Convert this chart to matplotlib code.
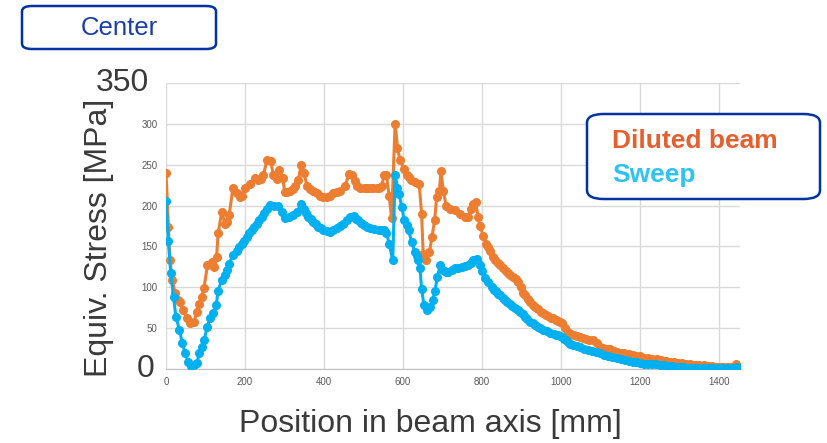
import matplotlib
matplotlib.use("Agg")
import matplotlib.pyplot as plt
from matplotlib.patches import FancyBboxPatch

plt.rcParams['font.family'] = ['Liberation Sans', 'DejaVu Sans']

diluted_x = [0, 6, 10, 16, 23, 30, 35, 43, 52, 61, 71, 78, 84, 90, 96, 105, 116, 122, 128, 132,
             141, 149, 155, 160, 169, 179, 187, 193, 200, 213, 225, 234, 240, 246, 256, 265, 272, 280,
             287, 295, 301, 307, 314, 321, 327, 335, 342, 349, 357, 365, 373, 381, 390, 398, 407, 415,
             424, 433, 441, 453, 464, 472, 478, 483, 491, 500, 508, 517, 525, 533, 540, 546, 552, 558,
             565, 571, 580, 586, 592, 603, 609, 614, 620, 630, 641, 647, 651, 658, 667, 673, 680, 685,
             692, 696, 702, 709, 719, 732, 744, 757, 765, 772, 778, 784, 790, 795,
             803, 810, 815, 820, 828, 834, 840, 846, 853, 860, 866, 872, 879, 885, 891, 898, 904, 910,
             916, 922, 929, 935, 942, 948, 955, 961, 968, 974, 980, 986, 992, 998, 1003, 1010, 1018,
             1025, 1033, 1040, 1048, 1056, 1064, 1072, 1081, 1091, 1099, 1105, 1112, 1118, 1124, 1133,
             1142, 1151, 1160, 1171, 1183, 1191, 1200, 1210, 1220, 1231, 1243, 1254, 1265, 1275, 1285,
             1295, 1305, 1316, 1327, 1338, 1350, 1361, 1372, 1383, 1395, 1403, 1410, 1419, 1428, 1436,
             1443]
diluted_y = [240, 174, 133, 109, 93, 85, 82, 72, 62, 56, 58, 70, 80, 88, 99, 127, 131, 125, 137, 166,
             192, 178, 180, 188, 221, 215, 210, 212, 222, 227, 234, 231, 233, 237, 256, 254, 237, 233,
             243, 234, 216, 216, 218, 220, 224, 231, 250, 240, 224, 220, 218, 215, 212, 211, 210, 212,
             215, 216, 218, 224, 239, 237, 230, 224, 222, 221, 221, 222, 221, 222, 222, 224, 237, 237,
             212, 185, 300, 271, 256, 245, 237, 235, 231, 229, 226, 190, 141, 133, 143, 161, 182, 210,
             218, 242, 218, 200, 196, 194, 190, 186, 186, 196, 202, 204, 186, 175,
             163, 153, 149, 145, 137, 134, 130, 127, 123, 120, 117, 115, 112, 110, 107, 100, 93, 90,
             86, 82, 78, 76, 73, 70, 68, 66, 65, 63, 62, 60, 59, 57, 56, 50, 45,
             43, 42, 40, 39, 38, 37, 36, 35, 32, 27, 26, 25, 24.5, 24, 22,
             21, 20, 19, 18, 17, 16.5, 16, 14, 13, 12.5, 12, 11, 10, 9, 8,
             7.5, 7, 6.5, 6, 5.5, 5, 4.5, 4, 3.5, 3, 2.5, 2, 2, 2, 3,
             6]

sweep_x = [0, 6, 12, 19, 25, 34, 41, 49, 56, 63, 71, 78, 84, 90, 96, 105, 111, 120, 127, 132, 141,
           149, 155, 160, 169, 179, 186, 192, 198, 204, 210, 217, 224, 230, 236, 242, 249, 255, 263,
           273, 284, 293, 301, 312, 322, 331, 342, 349, 355, 360, 367, 373, 380, 386, 392, 398, 407,
           415, 424, 432, 441, 449, 457, 466, 476, 482, 487, 494, 500, 508, 517, 527, 538, 545, 552,
           558, 565, 574, 580, 586, 590, 597, 603, 609, 614, 622, 630, 635, 639, 643, 647, 653, 660,
           668, 675, 681, 687, 694, 702, 708, 715, 724, 732, 740, 749, 757, 765, 772, 778, 787, 795,
           800, 808, 816, 825, 830, 835, 840, 846, 852, 858, 864, 871, 877, 884, 890, 896, 903, 909,
           915, 922, 928, 935, 941, 947, 955, 964, 972, 981, 987, 992, 997, 1002, 1007, 1012, 1018,
           1023, 1031, 1040, 1048, 1057, 1067, 1078, 1088, 1099, 1110, 1120, 1130, 1141, 1151, 1162,
           1172, 1183, 1191, 1200, 1210, 1221, 1230, 1240, 1250, 1260, 1270, 1280, 1290, 1300, 1310,
           1320, 1330, 1340, 1350, 1361, 1372, 1383, 1395, 1408, 1420, 1432, 1445]
sweep_y = [206, 157, 117, 88, 64, 48, 32, 19, 9, 4, 5, 7, 19, 27, 35, 52, 62, 68, 78, 96, 109,
           115, 121, 129, 139, 145, 149, 153, 157, 161, 166, 170, 174, 178, 182, 186, 191, 196, 201,
           200, 199, 192, 185, 186, 188, 192, 202, 196, 191, 186, 183, 180, 177, 174, 172, 170, 169,
           168, 170, 172, 175, 178, 182, 186, 187, 184, 182, 179, 176, 174, 172, 171, 170, 170, 170,
           167, 153, 133, 237, 222, 214, 198, 182, 176, 170, 155, 143, 138, 133, 123, 98, 78, 72,
           76, 84, 96, 113, 127, 121, 119, 119, 121, 123, 124, 125, 126, 127, 130, 133, 135, 127,
           120, 111, 106, 100, 97, 95, 92, 90, 87, 85, 82, 80, 77, 75, 72, 70, 67, 64,
           61, 58, 56, 54, 52, 50, 48, 46, 44, 43, 42, 41, 40, 39, 37, 35, 33,
           31, 29.5, 28, 26.5, 25, 23.5, 22, 20.5, 19, 17.5, 16, 14.5, 13, 12, 11,
           10, 9, 8, 7, 6.5, 6, 6, 6, 5, 4.5, 4, 3.5, 3, 2.5, 2,
           1.5, 1, 1, 1, 1, 1, 1, 1, 1, 1, 1, 2]

x_ticks = [0, 200, 400, 600, 800, 1000, 1200, 1400]
y_ticks_small = [50, 100, 150, 200, 250, 300]

ORANGE = '#ED7D31'
BLUE = '#00B0F0'
NAVY = '#0033A0'
TXT = '#3A3A3A'

fig = plt.figure(figsize=(8.28, 4.43), dpi=100)
ax = fig.add_axes([166/828, 1-369/443, (740-166)/828, (369-83)/443])

ax.plot(diluted_x, diluted_y, color=ORANGE, lw=2.2, marker='o', ms=5.5, zorder=3)
ax.plot(sweep_x, sweep_y, color=BLUE, lw=2.2, marker='o', ms=5.5, zorder=4)

ax.set_xlim(0, 1453)
ax.set_ylim(0, 350)
ax.set_xticks(x_ticks)
ax.set_yticks([0] + y_ticks_small + [350])
ax.set_yticklabels([''] + [str(v) for v in y_ticks_small] + [''])
ax.tick_params(axis='both', length=0, labelsize=7, labelcolor='#595959', pad=6)
ax.grid(True, color='#D9D9D9', lw=1)
ax.set_axisbelow(True)
for s in ['top', 'right', 'left']:
    ax.spines[s].set_visible(False)
ax.spines['bottom'].set_color('#BFBFBF')

# Large 0 and 350 labels
ax.text(-0.02, 0, '0', transform=ax.get_yaxis_transform(), ha='right', va='center',
        fontsize=23, color=TXT)
ax.text(-0.03, 350, '350', transform=ax.get_yaxis_transform(), ha='right', va='center',
        fontsize=23, color=TXT)

ax.set_ylabel('Equiv. Stress [MPa]', fontsize=23, color=TXT)
ax.yaxis.set_label_coords(-0.09, 0.46)
ax.set_xlabel('Position in beam axis [mm]', fontsize=23, color=TXT)
ax.xaxis.set_label_coords(0.46, -0.14)

# Center box
cb = FancyBboxPatch((22/828, 1-49/443), (216-22)/828, (49-6)/443,
                    boxstyle='round,pad=0,rounding_size=0.012', transform=fig.transFigure,
                    fc='white', ec=NAVY, lw=1.8, zorder=5)
fig.patches.append(cb)
fig.text(119/828, 1-28/443, 'Center', ha='center', va='center', fontsize=18.5,
         color='#1A3DA8', zorder=6)

# Legend box
lb = FancyBboxPatch((587/828, 1-199/443), (820-587)/828, (199-114)/443,
                    boxstyle='round,pad=0,rounding_size=0.02', transform=fig.transFigure,
                    fc='white', ec=NAVY, lw=1.8, zorder=5)
fig.patches.append(lb)
fig.text(612/828, 1-141/443, 'Diluted beam', ha='left', va='center', fontsize=19,
         fontweight='bold', color='#E5602F', zorder=6)
fig.text(612/828, 1-175/443, 'Sweep', ha='left', va='center', fontsize=19,
         fontweight='bold', color='#2EC3F2', zorder=6)

fig.savefig('out.png', dpi=100)
